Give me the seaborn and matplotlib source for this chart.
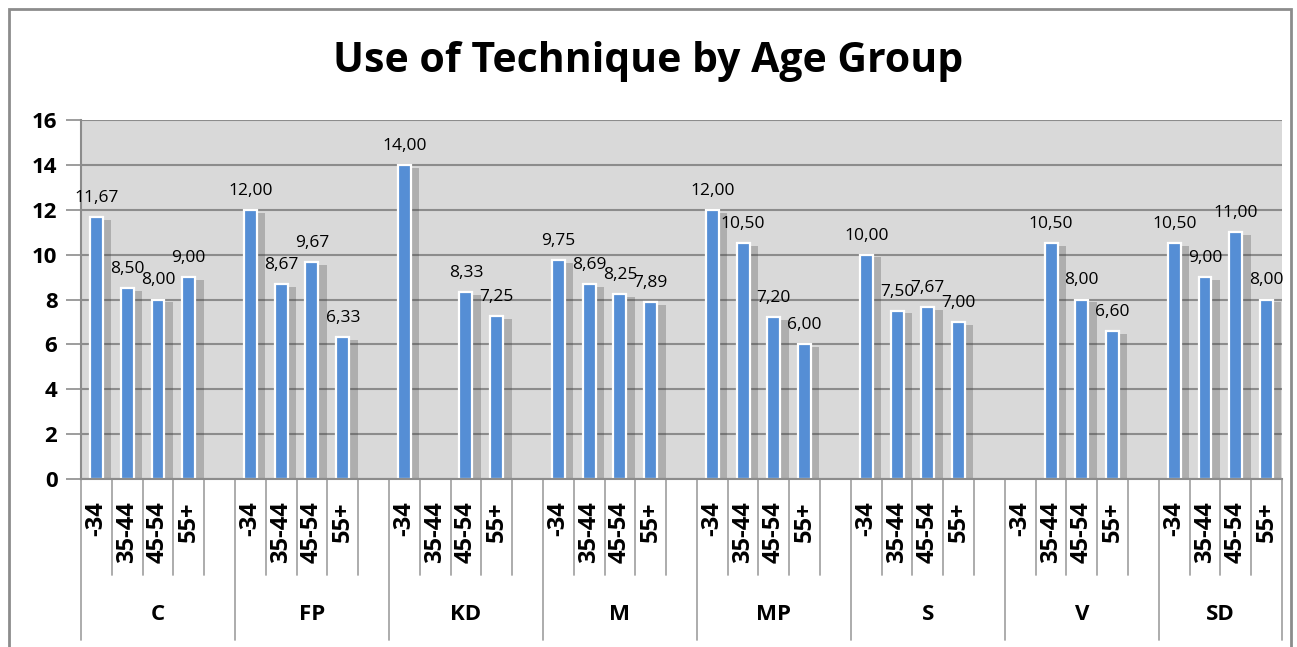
import pandas as pd
import matplotlib
matplotlib.use("Agg")
import matplotlib.pyplot as plt
import matplotlib.patheffects as pe
from matplotlib.patches import Rectangle
import seaborn as sns

groups = ["C", "FP", "KD", "M", "MP", "S", "V", "SD"]
ages = ["-34", "35-44", "45-54", "55+"]
# one list per group, None = no bar
values = {
    "C":  [11.67, 8.50, 8.00, 9.00],
    "FP": [12.00, 8.67, 9.67, 6.33],
    "KD": [14.00, None, 8.33, 7.25],
    "M":  [9.75, 8.69, 8.25, 7.89],
    "MP": [12.00, 10.50, 7.20, 6.00],
    "S":  [10.00, 7.50, 7.67, 7.00],
    "V":  [None, 10.50, 8.00, 6.60],
    "SD": [10.50, 9.00, 11.00, 8.00],
}
y_ticks = [0, 2, 4, 6, 8, 10, 12, 14, 16]

# build slots: 4 ages per group + an empty spacer slot between groups
rows = []
order = []
for gi, g in enumerate(groups):
    for a, v in zip(ages, values[g]):
        key = f"{g}|{a}"
        order.append(key)
        if v is not None:
            rows.append({"slot": key, "group": g, "age": a, "value": v})
    if gi < len(groups) - 1:
        order.append(f"{g}|gap")
df = pd.DataFrame(rows)

sns.set_style("white")
plt.rcParams["font.family"] = ["Open Sans", "DejaVu Sans"]
plt.rcParams["text.color"] = "black"
plt.rcParams["ytick.labelcolor"] = "black"

W, H = 1297, 647
fig = plt.figure(figsize=(W / 100, H / 100), dpi=100)
ax = fig.add_axes([81 / W, 1 - 479 / H, 1201 / W, 359 / H])
ax.set_facecolor("#d9d9d9")

sns.barplot(data=df, x="slot", y="value", order=order, width=0.42,
            color="#558ed5", saturation=1, edgecolor="white", linewidth=1.6,
            errorbar=None, ax=ax)

for bar in ax.patches:
    bar.set_path_effects([pe.SimplePatchShadow(offset=(6, -2), shadow_rgbFace="#404040", alpha=0.28),
                          pe.Normal()])

for cont in ax.containers:
    labels = [f"{h:.2f}".replace(".", ",") for h in cont.datavalues]
    ax.bar_label(cont, labels=labels, padding=8, fontsize=12.5, color="black")

ax.set_ylim(0, 16)
ax.set_xlim(-0.5, len(order) - 0.5)
ax.set_yticks(y_ticks)
ax.set_yticklabels([str(t) for t in y_ticks], fontsize=16, fontweight="bold", color="black")
ax.yaxis.grid(True, color="#8c8c8c", linewidth=1.5)
ax.set_axisbelow(True)
ax.tick_params(axis="y", length=11, width=1.2, color="#8c8c8c", pad=6, left=True)
ax.set_xticks([])
ax.set_xlabel("")
ax.set_ylabel("")
for s in ["top", "right"]:
    ax.spines[s].set_visible(False)
for s in ["left", "bottom"]:
    ax.spines[s].set_color("#8c8c8c")
    ax.spines[s].set_linewidth(1.5)

# multi-level category axis
trans = ax.get_xaxis_transform()
short_y = -96 / 359
long_y = -161 / 359
line_kw = dict(color="#a6a6a6", linewidth=1.3, clip_on=False, transform=trans)
ax.plot([-0.5, -0.5], [0, long_y], **line_kw)
for gi, g in enumerate(groups):
    start = order.index(f"{g}|-34")
    for k, a in enumerate(ages):
        ax.text(start + k, -22 / 359, a, rotation=90, ha="center", va="top",
                fontsize=17, fontweight="bold", color="black", transform=trans)
    for k in range(3):
        ax.plot([start + k + 0.5] * 2, [0, short_y], **line_kw)
    if gi < len(groups) - 1:
        ax.plot([start + 3.5] * 2, [0, short_y], **line_kw)
        ax.plot([start + 4.5] * 2, [0, long_y], **line_kw)
        center = start + 2
    else:
        ax.plot([start + 3.5] * 2, [0, long_y], **line_kw)
        center = start + 1.5
    ax.text(center, -136 / 359, g, ha="center", va="center",
            fontsize=16, fontweight="bold", color="black", transform=trans)

fig.text(0.5, 1 - 61 / H, "Use of Technique by Age Group", ha="center", va="center",
         fontsize=29.5, fontweight="bold", color="black")

fig.patches.append(Rectangle((9 / W, -0.05), (1291 - 9) / W, 1.05 - 9 / H,
                             transform=fig.transFigure, fill=False,
                             edgecolor="#8c8c8c", linewidth=2))

fig.savefig("out.png", dpi=100)
